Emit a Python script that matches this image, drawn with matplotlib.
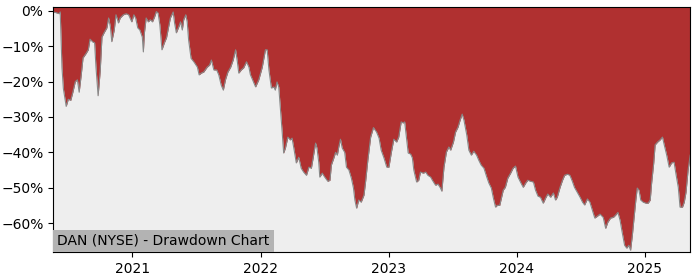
import pandas as pd
import matplotlib
matplotlib.use('Agg')
import matplotlib.pyplot as plt
import matplotlib.dates as mdates
from matplotlib.ticker import PercentFormatter

title = 'DAN (NYSE) - Drawdown Chart'

# drawdown readings (date, % below running peak)
dates = [
    '2020-05-20', '2020-05-28', '2020-06-06', '2020-06-09', '2020-06-14', '2020-06-18',
    '2020-06-26', '2020-07-02', '2020-07-09', '2020-07-15', '2020-07-22', '2020-07-28',
    '2020-08-02', '2020-08-08', '2020-08-13', '2020-08-22', '2020-08-28', '2020-09-02',
    '2020-09-10', '2020-09-15', '2020-09-19', '2020-09-25', '2020-10-01', '2020-10-06',
    '2020-10-12', '2020-10-20', '2020-10-25', '2020-10-30', '2020-11-03', '2020-11-10',
    '2020-11-15', '2020-11-22', '2020-11-27', '2020-12-06', '2020-12-14', '2020-12-21',
    '2020-12-30', '2021-01-05', '2021-01-10', '2021-01-16', '2021-01-22', '2021-01-29',
    '2021-02-01', '2021-02-04', '2021-02-09', '2021-02-15', '2021-02-21', '2021-02-27',
    '2021-03-05', '2021-03-10', '2021-03-15', '2021-03-20', '2021-03-26', '2021-04-02',
    '2021-04-08', '2021-04-14', '2021-04-19', '2021-04-27', '2021-05-01', '2021-05-06',
    '2021-05-13', '2021-05-18', '2021-05-23', '2021-05-27', '2021-06-02', '2021-06-06',
    '2021-06-10', '2021-06-17', '2021-06-25', '2021-07-05', '2021-07-10', '2021-07-16',
    '2021-07-23', '2021-08-02', '2021-08-09', '2021-08-14', '2021-08-21', '2021-08-29',
    '2021-09-04', '2021-09-11', '2021-09-17', '2021-09-23', '2021-09-30', '2021-10-08',
    '2021-10-15', '2021-10-22', '2021-10-27', '2021-10-31', '2021-11-07', '2021-11-14',
    '2021-11-22', '2021-11-29', '2021-12-03', '2021-12-18', '2021-12-27', '2022-01-06',
    '2022-01-15', '2022-01-20', '2022-01-25', '2022-02-01', '2022-02-08', '2022-02-12',
    '2022-02-17', '2022-02-22', '2022-02-27', '2022-03-04', '2022-03-08', '2022-03-13',
    '2022-03-20', '2022-03-27', '2022-04-01', '2022-04-06', '2022-04-13', '2022-04-20',
    '2022-04-27', '2022-05-04', '2022-05-12', '2022-05-19', '2022-05-26', '2022-05-31',
    '2022-06-07', '2022-06-11', '2022-06-16', '2022-06-19', '2022-06-26', '2022-07-03',
    '2022-07-12', '2022-07-18', '2022-07-22', '2022-07-29', '2022-08-03', '2022-08-08',
    '2022-08-12', '2022-08-17', '2022-08-22', '2022-08-29', '2022-09-03', '2022-09-10',
    '2022-09-17', '2022-09-23', '2022-09-27', '2022-10-02', '2022-10-08', '2022-10-15',
    '2022-10-23', '2022-10-28', '2022-11-03', '2022-11-11', '2022-11-19', '2022-11-28',
    '2022-12-05', '2022-12-11', '2022-12-19', '2022-12-27', '2023-01-02', '2023-01-09',
    '2023-01-16', '2023-01-24', '2023-01-30', '2023-02-06', '2023-02-12', '2023-02-16',
    '2023-02-21', '2023-02-26', '2023-03-05', '2023-03-10', '2023-03-14', '2023-03-22',
    '2023-03-28', '2023-04-02', '2023-04-10', '2023-04-17', '2023-04-23', '2023-05-01',
    '2023-05-06', '2023-05-15', '2023-05-22', '2023-05-29', '2023-06-02', '2023-06-08',
    '2023-06-15', '2023-06-22', '2023-06-27', '2023-07-05', '2023-07-11', '2023-07-18',
    '2023-07-24', '2023-07-30', '2023-08-04', '2023-08-12', '2023-08-18', '2023-08-25',
    '2023-09-01', '2023-09-09', '2023-09-15', '2023-09-22', '2023-09-30', '2023-10-08',
    '2023-10-14', '2023-10-21', '2023-10-27', '2023-11-02', '2023-11-07', '2023-11-14',
    '2023-11-24', '2023-11-30', '2023-12-07', '2023-12-15', '2023-12-22', '2023-12-29',
    '2024-01-05', '2024-01-12', '2024-01-20', '2024-01-27', '2024-02-02', '2024-02-10',
    '2024-02-18', '2024-02-24', '2024-03-02', '2024-03-09', '2024-03-17', '2024-03-24',
    '2024-03-30', '2024-04-07', '2024-04-15', '2024-04-21', '2024-04-26', '2024-05-04',
    '2024-05-11', '2024-05-17', '2024-05-25', '2024-06-01', '2024-06-08', '2024-06-14',
    '2024-06-22', '2024-06-30', '2024-07-07', '2024-07-13', '2024-07-21', '2024-07-28',
    '2024-08-04', '2024-08-11', '2024-08-18', '2024-08-26', '2024-09-04', '2024-09-11',
    '2024-09-17', '2024-09-25', '2024-10-03', '2024-10-09', '2024-10-16', '2024-10-22',
    '2024-10-28', '2024-11-04', '2024-11-10', '2024-11-16', '2024-11-21', '2024-11-26',
    '2024-12-01', '2024-12-06', '2024-12-10', '2024-12-15', '2024-12-20', '2024-12-27',
    '2025-01-04', '2025-01-10', '2025-01-16', '2025-01-20', '2025-01-26', '2025-01-30',
    '2025-02-06', '2025-02-13', '2025-02-20', '2025-02-25', '2025-03-04', '2025-03-11',
    '2025-03-18', '2025-03-25', '2025-03-31', '2025-04-06', '2025-04-11', '2025-04-18',
    '2025-04-23', '2025-04-28', '2025-05-04', '2025-05-10',
]
drawdown = [
    -0.3, -0.5, -0.8, -0.3, -16.0, -22.0,
    -27.0, -25.0, -25.3, -23.0, -20.0, -19.5,
    -23.0, -18.0, -13.3, -12.0, -11.0, -8.0,
    -8.8, -9.0, -16.0, -24.0, -17.0, -7.4,
    -6.2, -4.8, -2.0, -4.5, -8.7, -5.4,
    -1.1, -3.4, -2.0, -1.1, -0.8, -1.1,
    -3.1, -1.1, -2.0, -4.8, -5.4, -7.4,
    -11.6, -6.2, -2.0, -3.1, -2.5, -3.1,
    -1.7, -0.2, -0.6, -3.9, -11.0, -9.0,
    -7.6, -4.5, -2.0, -0.3, -3.4, -6.2,
    -4.5, -3.1, -5.4, -2.5, -1.1, -3.1,
    -8.2, -13.4, -14.4, -15.9, -18.1, -17.6,
    -17.3, -15.9, -15.3, -13.9, -16.7, -16.7,
    -18.1, -21.0, -22.4, -19.5, -17.3, -15.9,
    -13.9, -11.0, -14.4, -17.6, -16.7, -16.1,
    -14.4, -15.9, -18.0, -21.5, -19.5, -15.9,
    -11.0, -11.0, -16.7, -21.8, -21.5, -22.4,
    -20.1, -21.5, -28.0, -34.6, -40.2, -38.8,
    -35.7, -36.5, -36.0, -38.8, -43.0, -41.4,
    -44.5, -45.6, -46.5, -44.2, -44.5, -41.6,
    -37.4, -38.8, -42.8, -47.0, -45.9, -47.0,
    -48.2, -47.9, -43.6, -41.6, -40.0, -40.8,
    -38.5, -36.3, -38.8, -40.0, -44.2, -45.0,
    -47.3, -50.1, -53.5, -55.8, -53.5, -54.1,
    -52.1, -47.9, -42.2, -35.7, -33.0, -34.3,
    -36.0, -39.4, -41.6, -44.2, -44.2, -40.0,
    -36.3, -37.1, -35.7, -31.4, -31.7, -31.4,
    -35.7, -40.2, -40.5, -41.6, -45.0, -48.4,
    -47.9, -45.6, -45.9, -45.6, -46.5, -47.0,
    -47.9, -49.3, -49.0, -50.1, -51.0, -44.2,
    -39.9, -38.5, -39.4, -37.1, -34.3, -32.9,
    -30.9, -29.2, -30.9, -35.1, -39.4, -40.8,
    -39.7, -40.8, -42.2, -43.6, -44.5, -47.0,
    -48.7, -50.1, -53.0, -55.5, -55.0, -55.0,
    -50.7, -49.9, -47.3, -45.9, -44.5, -43.9,
    -47.0, -48.4, -49.9, -48.7, -47.9, -48.2,
    -48.4, -50.7, -52.4, -52.7, -54.4, -52.9,
    -51.8, -52.7, -51.5, -53.5, -52.7, -49.9,
    -47.9, -46.5, -46.2, -46.5, -48.2, -49.9,
    -51.3, -52.7, -54.1, -54.9, -53.2, -54.1,
    -56.4, -58.6, -58.1, -57.5, -58.4, -61.5,
    -59.8, -58.6, -58.4, -57.8, -57.0, -59.2,
    -62.6, -66.3, -67.1, -66.3, -67.7, -63.5,
    -58.4, -53.5, -50.1, -50.7, -53.5, -54.1,
    -54.4, -54.4, -53.5, -48.7, -43.0, -37.9,
    -37.1, -36.5, -35.7, -37.9, -40.8, -44.2,
    -43.0, -42.8, -46.5, -49.9, -55.5, -55.5,
    -54.1, -51.3, -45.0, -40.8,
]

dd = pd.Series(drawdown, index=pd.to_datetime(dates))
y_top = 1.1
y_bottom = -68.2

fig, ax = plt.subplots(figsize=(7, 2.8), dpi=100)
fig.subplots_adjust(left=0.076, right=0.986, top=0.975, bottom=0.1)

ax.set_facecolor('#eeeeee')
ax.fill_between(dd.index, dd.values, y_top, color='#b03030', linewidth=0)
ax.plot(dd.index, dd.values, color='#888888', linewidth=0.8)

ax.set_xlim(dd.index[0], dd.index[-1])
ax.set_ylim(y_bottom, y_top)
ax.set_yticks([0, -10, -20, -30, -40, -50, -60])
ax.yaxis.set_major_formatter(PercentFormatter(100, decimals=0))
ax.xaxis.set_major_locator(mdates.YearLocator())
ax.xaxis.set_major_formatter(mdates.DateFormatter('%Y'))

ax.annotate(title, xy=(0, 0), xycoords='axes fraction', xytext=(3, 3),
            textcoords='offset points', ha='left', va='bottom', fontsize=10,
            bbox=dict(facecolor='#b3b3b3', edgecolor='none', pad=3))

fig.savefig('out.png')
